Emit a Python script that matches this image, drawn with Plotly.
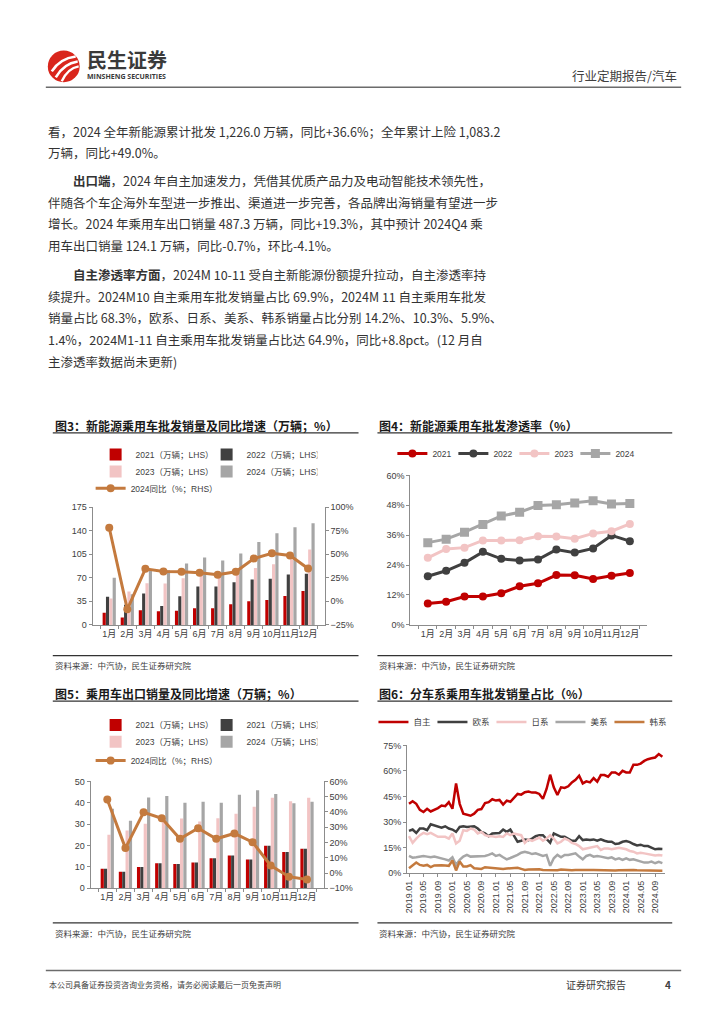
import plotly.graph_objects as go

W, H = 724, 1024


def px(x):
    return x / W


def py(y):
    return 1 - y / H


# ---------------- data ----------------
months = ["1月", "2月", "3月", "4月", "5月", "6月", "7月", "8月", "9月", "10月", "11月", "12月"]

# 图3 新能源乘用车批发销量（万辆）及 2024 同比（%）
nev_2021 = [17.9, 11.0, 21.6, 20.4, 20.9, 24.7, 24.6, 30.5, 35.0, 36.8, 42.9, 50.5]
nev_2022 = [41.9, 30.0, 46.5, 28.0, 42.5, 57.0, 57.0, 63.5, 67.5, 68.5, 75.0, 76.0]
nev_2023 = [39.3, 49.7, 61.7, 61.5, 69.3, 76.7, 74.5, 80.7, 84.6, 90.1, 97.6, 112.0]
nev_2024 = [70.0, 45.5, 83.0, 81.0, 91.0, 100.0, 95.5, 106.0, 123.0, 136.0, 145.0, 151.0]
nev_yoy_2024 = [78.0, -8.5, 34.5, 31.7, 31.3, 30.3, 28.2, 31.3, 45.4, 51.0, 48.6, 34.9]

# 图4 新能源乘用车批发渗透率（%）
pen_2021 = [8.6, 9.3, 11.4, 11.4, 12.7, 15.5, 16.7, 20.0, 19.9, 18.4, 19.7, 20.8]
pen_2022 = [19.5, 21.7, 24.9, 29.3, 26.5, 25.8, 26.2, 30.2, 29.0, 30.7, 35.9, 33.6]
pen_2023 = [26.9, 30.5, 31.0, 33.9, 33.9, 34.0, 35.6, 35.5, 34.6, 36.7, 37.6, 40.5]
pen_2024 = [33.0, 34.4, 37.2, 40.3, 43.7, 45.2, 47.9, 48.2, 48.9, 49.8, 48.5, 48.7]

# 图5 乘用车出口销量（万辆）及 2024 同比（%）
exp_2021 = [9.1, 7.7, 9.9, 11.7, 11.4, 12.0, 14.0, 15.3, 13.4, 19.9, 17.0, 18.5]
exp_2021_b = [9.1, 7.7, 9.9, 11.7, 11.4, 12.0, 14.0, 15.3, 13.4, 19.9, 17.0, 18.5]
exp_2023 = [25.0, 27.0, 30.2, 31.7, 32.6, 31.2, 32.7, 34.9, 38.1, 42.3, 40.7, 42.3]
exp_2024 = [37.2, 31.6, 42.4, 43.1, 40.0, 40.4, 40.0, 43.7, 45.8, 44.1, 39.7, 40.4]
exp_yoy_2024 = [48.1, 16.3, 39.7, 35.8, 22.4, 29.3, 22.4, 25.9, 20.2, 4.9, -2.4, -4.2]

# 图6 分车系乘用车批发销量占比（%），2019.01-2024.11
share_months = [f"{y}.{m:02d}" for y in range(2019, 2025) for m in range(1, 13)][:71]
share_tick_labels = share_months[::4]
share_own = [40.7, 42.2, 40.7, 37.2, 35.9, 37.8, 36.2, 37.2, 38.2, 39.7, 39.3, 41.7,
             37.8, 52.7, 40.7, 34.9, 34.3, 33.7, 34.9, 37.2, 37.6, 41.1, 41.7, 43.4,
             42.6, 43.0, 40.3, 42.6, 41.9, 44.2, 46.5, 46.1, 47.5, 47.9, 47.3, 47.3,
             46.5, 43.6, 49.4, 57.8, 50.4, 45.9, 50.4, 50.0, 51.0, 53.3, 54.8, 57.2,
             52.7, 53.9, 53.3, 55.8, 53.7, 57.6, 57.6, 56.6, 59.1, 59.1, 57.8, 60.1,
             59.1, 59.1, 63.6, 63.6, 64.3, 65.9, 66.9, 67.4, 67.9, 69.9, 68.3]
share_eu = [24.8, 25.6, 23.6, 26.2, 26.2, 25.2, 28.7, 28.1, 27.5, 26.7, 27.5, 26.2,
            25.6, 24.2, 27.1, 27.5, 27.1, 27.1, 27.5, 26.2, 24.2, 23.3, 21.7, 23.3,
            23.6, 23.6, 25.6, 24.2, 25.6, 22.3, 18.4, 19.0, 19.8, 19.4, 20.3, 21.7,
            22.3, 22.3, 20.3, 17.8, 23.3, 22.3, 21.3, 21.3, 20.3, 19.0, 19.0, 21.7,
            19.4, 19.8, 19.4, 19.8, 19.0, 19.8, 19.0, 18.4, 18.4, 17.1, 17.4, 18.4,
            18.8, 18.2, 17.1, 16.3, 16.7, 15.9, 15.9, 14.7, 14.0, 14.3, 14.2]
share_jp = [21.7, 17.8, 20.3, 22.3, 23.6, 22.9, 23.6, 22.3, 21.3, 21.3, 21.3, 20.3,
            23.3, 17.4, 19.0, 25.2, 24.8, 26.2, 25.6, 23.3, 24.2, 22.3, 21.7, 21.7,
            21.3, 21.7, 21.3, 23.3, 22.3, 23.3, 22.9, 22.3, 17.8, 19.8, 19.0, 19.8,
            20.9, 19.0, 20.3, 22.3, 20.3, 17.4, 18.4, 20.3, 19.4, 17.8, 17.1, 15.9,
            14.0, 14.5, 14.9, 15.5, 15.9, 13.6, 14.5, 14.5, 14.0, 14.5, 14.9, 14.5,
            14.0, 13.0, 12.6, 11.6, 12.0, 11.6, 11.2, 10.7, 10.3, 10.7, 10.3]
share_us = [10.1, 9.1, 9.3, 9.7, 10.1, 9.7, 9.3, 9.7, 9.3, 8.7, 8.1, 7.4,
            9.3, 4.8, 7.8, 9.7, 10.7, 9.7, 9.7, 9.7, 10.1, 10.1, 10.7, 11.6,
            10.1, 10.7, 9.3, 8.1, 8.9, 9.7, 10.7, 12.0, 12.6, 12.0, 11.2, 11.6,
            10.7, 10.1, 10.7, 4.3, 8.7, 10.7, 9.3, 10.7, 10.7, 11.2, 11.6, 9.7,
            8.1, 10.1, 10.7, 9.7, 10.1, 9.7, 9.3, 8.7, 9.3, 8.1, 8.7, 7.8,
            8.7, 7.8, 8.1, 7.4, 6.8, 6.2, 6.2, 6.8, 5.8, 6.6, 5.9]
share_kr = [2.9, 4.8, 6.2, 4.8, 4.3, 4.8, 3.5, 4.5, 4.8, 4.7, 4.5, 4.3,
            7.4, 1.6, 6.8, 3.9, 3.9, 4.7, 2.9, 2.9, 2.5, 3.5, 3.3, 3.3,
            2.9, 2.5, 2.5, 2.7, 2.7, 2.9, 3.1, 2.5, 1.9, 2.1, 2.3, 2.5,
            2.3, 1.9, 1.9, 1.6, 1.6, 1.7, 2.1, 1.9, 1.8, 1.7, 1.8, 1.9,
            1.6, 1.7, 1.8, 1.8, 1.7, 1.6, 1.7, 1.8, 1.7, 1.6, 1.7, 1.8,
            2.0, 1.7, 1.8, 1.7, 1.6, 1.6, 1.5, 1.6, 1.5, 1.5, 1.4]

# ---------------- styles ----------------
RED = "#C00000"
DARK = "#404040"
PINK = "#F2C4C4"
GRAY = "#A6A6A6"
ORANGE = "#C47A3E"
CJK = "Noto Sans CJK SC"
CHART_FONT = "Liberation Sans, Noto Sans CJK SC, sans-serif"

fig = go.Figure()

# ---- 图3 ----
for name, vals, col in [("2021（万辆；LHS）", nev_2021, RED), ("2022（万辆；LHS）", nev_2022, DARK)]:
    fig.add_trace(go.Bar(x=months, y=vals, name=name, marker=dict(color=col, line=dict(width=0)),
                         xaxis="x", yaxis="y", legend="legend"))
for name, vals, col in [("2023（万辆；LHS）", nev_2023, PINK), ("2024（万辆；LHS）", nev_2024, GRAY)]:
    fig.add_trace(go.Bar(x=months, y=vals, name=name, marker=dict(color=col, line=dict(width=0)),
                         xaxis="x", yaxis="y", legend="legend2"))
fig.add_trace(go.Scatter(x=months, y=nev_yoy_2024, name="2024同比（%；RHS）", mode="lines+markers",
                         line=dict(color=ORANGE, width=3), marker=dict(size=8, color=ORANGE),
                         xaxis="x", yaxis="y2", legend="legend3"))

# ---- 图4 ----
for name, vals, col, sym, sz in [("2021", pen_2021, RED, "circle", 8), ("2022", pen_2022, DARK, "circle", 8),
                                 ("2023", pen_2023, PINK, "circle", 8), ("2024", pen_2024, GRAY, "square", 9)]:
    fig.add_trace(go.Scatter(x=months, y=vals, name=name, mode="lines+markers",
                             line=dict(color=col, width=3), marker=dict(size=sz, color=col, symbol=sym),
                             xaxis="x2", yaxis="y3", legend="legend4"))

# ---- 图5 ----
for name, vals, col in [("2021（万辆；LHS）", exp_2021, RED), ("2021（万辆；LHS） ", exp_2021_b, DARK)]:
    fig.add_trace(go.Bar(x=months, y=vals, name=name, marker=dict(color=col, line=dict(width=0)),
                         xaxis="x3", yaxis="y4", legend="legend5"))
for name, vals, col in [("2023（万辆；LHS）", exp_2023, PINK), ("2024（万辆；LHS）", exp_2024, GRAY)]:
    fig.add_trace(go.Bar(x=months, y=vals, name=name, marker=dict(color=col, line=dict(width=0)),
                         xaxis="x3", yaxis="y4", legend="legend6"))
fig.add_trace(go.Scatter(x=months, y=exp_yoy_2024, name="2024同比（%；RHS）", mode="lines+markers",
                         line=dict(color=ORANGE, width=3), marker=dict(size=8, color=ORANGE),
                         xaxis="x3", yaxis="y5", legend="legend7"))

# ---- 图6 ----
for name, vals, col in [("自主", share_own, RED), ("欧系", share_eu, DARK), ("日系", share_jp, PINK),
                        ("美系", share_us, GRAY), ("韩系", share_kr, ORANGE)]:
    fig.add_trace(go.Scatter(x=share_months, y=vals, name=name, mode="lines",
                             line=dict(color=col, width=2.5),
                             xaxis="x4", yaxis="y6", legend="legend8"))

# ---------------- axes ----------------
AX = dict(showline=True, linecolor="#8c8c8c", linewidth=1, ticks="outside", tickcolor="#8c8c8c",
          ticklen=3, showgrid=False, zeroline=False, tickfont=dict(size=9, color="#404040", family=CHART_FONT))

layout_axes = dict(
    xaxis=dict(domain=[px(90), px(323)], anchor="y", type="category", tickson="boundaries",
               tickangle=0, **AX),
    yaxis=dict(domain=[py(626), py(507)], anchor="x", range=[0, 175], tick0=0, dtick=35, **AX),
    yaxis2=dict(overlaying="y", side="right", anchor="x", range=[-25, 100], tick0=-25, dtick=25,
                ticksuffix="%", **AX),
    xaxis2=dict(domain=[px(409), px(647)], anchor="y3", type="category", tickson="boundaries",
                tickangle=0, **AX),
    yaxis3=dict(domain=[py(626), py(475)], anchor="x2", range=[0, 60], tick0=0, dtick=12,
                ticksuffix="%", **AX),
    xaxis3=dict(domain=[px(88), px(322)], anchor="y4", type="category", tickson="boundaries",
                tickangle=0, **AX),
    yaxis4=dict(domain=[py(892), py(784)], anchor="x3", range=[0, 50], tick0=0, dtick=10, **AX),
    yaxis5=dict(overlaying="y4", side="right", anchor="x3", range=[-10, 60], tick0=-10, dtick=10,
                ticksuffix="%", **AX),
    xaxis4=dict(domain=[px(405.7), px(664.3)], anchor="y6", type="category", range=[-0.55, 70.6],
                tickmode="array", tickvals=share_tick_labels, ticktext=share_tick_labels, tickangle=-90,
                **AX),
    yaxis6=dict(domain=[py(876.7), py(747.7)], anchor="x4", range=[0, 75], tick0=0, dtick=15,
                ticksuffix="%", **AX),
)

LEG_FONT = dict(size=8.5, color="#404040", family=CHART_FONT)


def leg(x, y, ew):
    return dict(x=px(x), y=py(y), xanchor="left", yanchor="middle", orientation="h",
                entrywidth=ew, entrywidthmode="pixels", font=LEG_FONT,
                bgcolor="rgba(0,0,0,0)", borderwidth=0, traceorder="normal")


layout_legends = dict(
    legend=leg(93, 454, 66),
    legend2=leg(93, 471, 66),
    legend3=leg(88, 488, 120),
    legend4=leg(391, 453, 16),
    legend5=leg(93, 727, 66),
    legend6=leg(93, 744, 66),
    legend7=leg(88, 763, 120),
    legend8=leg(372, 724, 14),
)

# ---------------- page decorations ----------------
annotations = []


def text(s, x, y, size, color="#333333", anchor="left", family=CJK):
    annotations.append(dict(text=s, x=px(x), y=py(y), xref="paper", yref="paper", showarrow=False,
                            xanchor=anchor, yanchor="middle", align=anchor,
                            font=dict(size=size, color=color, family=family)))


# header
text("<b>民生证券</b>", 82, 55, 20, "#3a3a3a")
text("<b>MINSHENG SECURITIES</b>", 82.5, 72.5, 7, "#3a3a3a", family="Open Sans, Liberation Sans")
text("行业定期报告/汽车", 679, 71, 12.5, "#404040", anchor="right")

# body text
BODY = 12.5
body_lines = [
    ("看，2024 全年新能源累计批发 1,226.0 万辆，同比+36.6%；全年累计上险 1,083.2", 43, 128),
    ("万辆，同比+49.0%。", 43, 149),
    ("<b>出口端</b>，2024 年自主加速发力，凭借其优质产品力及电动智能技术领先性，", 68, 177),
    ("伴随各个车企海外车型进一步推出、渠道进一步完善，各品牌出海销量有望进一步", 43, 199),
    ("增长。2024 年乘用车出口销量 487.3 万辆，同比+19.3%，其中预计 2024Q4 乘", 43, 221),
    ("用车出口销量 124.1 万辆，同比-0.7%，环比-4.1%。", 43, 243),
    ("<b>自主渗透率方面</b>，2024M 10-11 受自主新能源份额提升拉动，自主渗透率持", 68, 272),
    ("续提升。2024M10 自主乘用车批发销量占比 69.9%，2024M 11 自主乘用车批发", 43, 294),
    ("销量占比 68.3%，欧系、日系、美系、韩系销量占比分别 14.2%、10.3%、5.9%、", 43, 316),
    ("1.4%，2024M1-11 自主乘用车批发销量占比达 64.9%，同比+8.8pct。(12 月自", 43, 338),
    ("主渗透率数据尚未更新)", 43, 360),
]
for s, x, y in body_lines:
    text(s, x, y, BODY)

# chart titles & sources
text("<b>图3：新能源乘用车批发销量及同比增速（万辆；%）</b>", 50, 425, 12, "#1a1a1a")
text("<b>图4：新能源乘用车批发渗透率（%）</b>", 376, 425, 12, "#1a1a1a")
text("<b>图5：乘用车出口销量及同比增速（万辆；%）</b>", 50, 695, 12, "#1a1a1a")
text("<b>图6：分车系乘用车批发销量占比（%）</b>", 376, 695, 12, "#1a1a1a")
for x, y in [(50, 667), (376, 667), (50, 937), (376, 937)]:
    text("资料来源：中汽协，民生证券研究院", x, y, 8.5, "#404040")

# footer
text("本公司具备证券投资咨询业务资格，请务必阅读最后一页免责声明", 44, 989, 8, "#404040")
text("证券研究报告", 563, 989, 10, "#404040")
text("<b>4</b>", 668, 989, 10, "#404040", anchor="center")

shapes = []


def hline(x0, x1, y, color="#333333", width=1.2):
    shapes.append(dict(type="line", xref="paper", yref="paper", x0=px(x0), x1=px(x1), y0=py(y), y1=py(y),
                       line=dict(color=color, width=width)))


hline(43, 681, 83, "#6b6b6b", 1.5)
hline(43, 681, 975, "#6b6b6b", 1.5)
for y in (432, 657, 703, 927):
    hline(50, 357, y)
    hline(376, 672, y)

# logo
shapes.append(dict(type="circle", xref="paper", yref="paper", x0=px(45), x1=px(77), y0=py(78), y1=py(46),
                   fillcolor="#D9261C", line=dict(width=0)))


def curve(p0, c, p1, w):
    d = f"M{px(p0[0])},{py(p0[1])} Q{px(c[0])},{py(c[1])} {px(p1[0])},{py(p1[1])}"
    shapes.append(dict(type="path", xref="paper", yref="paper", path=d,
                       line=dict(color="white", width=w)))


curve((49, 67), (57, 54), (73, 52), 2.6)
curve((53, 73), (61, 59), (75, 57), 2.6)
curve((59, 77), (65, 64), (76, 62), 2.4)

fig.update_layout(
    width=W, height=H, margin=dict(l=0, r=0, t=0, b=0),
    paper_bgcolor="white", plot_bgcolor="white",
    font=dict(family=CHART_FONT, color="#404040"),
    barmode="group", bargap=0.26, bargroupgap=0.05,
    showlegend=True,
    annotations=annotations, shapes=shapes,
    **layout_axes, **layout_legends,
)

fig.write_html(
    "out.html",
    config={"displayModeBar": False},
    post_script="document.body.style.margin='0px';document.body.style.overflow='hidden';"
                "document.documentElement.style.overflow='hidden';",
)
